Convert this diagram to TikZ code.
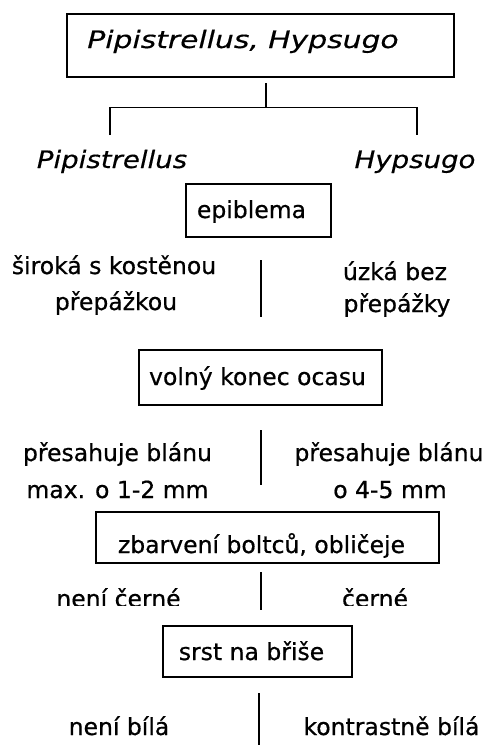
\documentclass[tikz,border=0pt]{standalone}
\usepackage{fontspec}
\setmainfont{DejaVu Sans}
\newfontfamily\bodyfont[FakeBold=0.6]{DejaVu Sans}
\newfontfamily\itfont[FakeStretch=1.15,FakeBold=0.4]{DejaVu Sans}
\newfontfamily\ittopfont[FakeStretch=1.24,FakeBold=0.4]{DejaVu Sans}
\begin{document}
\begin{tikzpicture}[x=1pt,y=-1pt,
  box/.style={draw,line width=1.6pt,inner sep=0pt},
  txt/.style={anchor=base,inner sep=0pt,font=\bodyfont\fontsize{23.5}{28}\selectfont},
  ittxt/.style={anchor=base,inner sep=0pt,font=\itfont\itshape\fontsize{24}{28}\selectfont},
  ittop/.style={anchor=base,inner sep=0pt,font=\ittopfont\itshape\fontsize{24}{28}\selectfont},
  conn/.style={line width=1.3pt}]
\useasboundingbox (0,0) rectangle (493,745);
% boxes
\node[box,minimum width=387pt,minimum height=63pt] (b0) at (260.5,45.5) {};
\node[box,minimum width=145pt,minimum height=53pt] (b1) at (258.5,210.5) {};
\node[box,minimum width=243pt,minimum height=55pt] (b2) at (260.5,377.5) {};
\node[box,minimum width=343pt,minimum height=51pt] (b3) at (267.5,537.5) {};
\node[box,minimum width=189pt,minimum height=51pt] (b4) at (257.5,651.5) {};
% box texts
\node[ittop] (t0) at (243,48) {Pipistrellus, Hypsugo};
\node[txt] (t1) at (251.5,218) {epiblema};
\node[txt] (t2) at (257.5,385) {volný konec ocasu};
\node[txt] (t3) at (261.5,553) {zbarvení boltců, obličeje};
\node[txt] (t4) at (251.5,660) {srst na břiše};
% genus labels
\node[ittxt] (g1) at (112,168) {Pipistrellus};
\node[ittxt] (g2) at (415,168) {Hypsugo};
% tree connector
\coordinate (c0) at (266,83);
\coordinate (cj) at (266,107.5);
\coordinate (cl) at (110,107.5);
\coordinate (cr) at (417,107.5);
\coordinate (cl2) at (110,135);
\coordinate (cr2) at (417,135);
\draw[conn] (c0) -- (cj);
\draw[conn] (cl2) -- (cl) -- (cr) -- (cr2);
% epiblema options
\node[txt] (o1a) at (114,274) {široká s kostěnou};
\node[txt] (o1b) at (116,310) {přepážkou};
\node[txt] (o1c) at (395,280) {úzká bez};
\node[txt] (o1d) at (397,312) {přepážky};
\coordinate (s1a) at (261,260);
\coordinate (s1b) at (261,317);
\draw[conn] (s1a) -- (s1b);
% tail options
\node[txt] (o2a) at (117.5,461) {přesahuje blánu};
\node[txt] (o2b) at (117.5,498) {max. o 1-2 mm};
\node[txt] (o2c) at (389,461) {přesahuje blánu};
\node[txt] (o2d) at (390,498) {o 4-5 mm};
\coordinate (s2a) at (261,430);
\coordinate (s2b) at (261,485);
\draw[conn] (s2a) -- (s2b);
% colour options (clipped)
\begin{scope}
\clip (0,565) rectangle (493,605);
\node[txt] (o3a) at (118.5,607) {není černé};
\node[txt] (o3b) at (375,607) {černé};
\end{scope}
\coordinate (s3a) at (261,572);
\coordinate (s3b) at (261,610);
\draw[conn] (s3a) -- (s3b);
% belly options
\node[txt] (o4a) at (119,735) {není bílá};
\node[txt] (o4b) at (391.5,735) {kontrastně bílá};
\coordinate (s4a) at (259,693);
\coordinate (s4b) at (259,745);
\draw[conn] (s4a) -- (s4b);
\end{tikzpicture}
\end{document}
